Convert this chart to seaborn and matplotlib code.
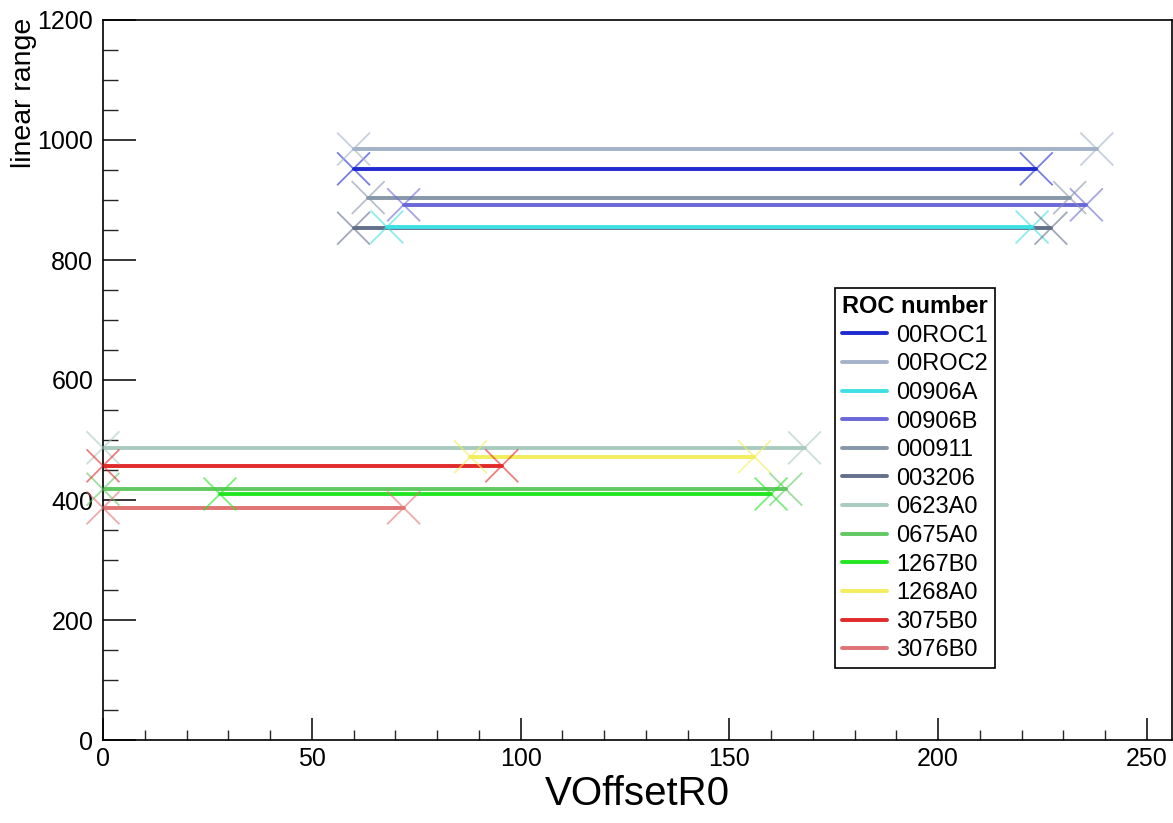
import numpy as np
import pandas as pd
import matplotlib
matplotlib.use("Agg")
import matplotlib.pyplot as plt
from matplotlib.lines import Line2D
from matplotlib.ticker import MultipleLocator
import seaborn as sns

# ---- data ----
rocs = ["00ROC1", "00ROC2", "00906A", "00906B", "000911", "003206",
        "0623A0", "0675A0", "1267B0", "1268A0", "3075B0", "3076B0"]
linear_range = [952, 985, 855, 892, 904, 853, 487, 418, 410, 472, 457, 387]
voffset_start = [60, 60, 68, 72, 63.5, 60, 0, 0, 28, 88, 0, 0]
voffset_end = [223.5, 238, 222.5, 235.5, 231.5, 227, 168, 163.5, 160, 156, 95.5, 72]
colors = ["#1f2ad0", "#a3b2c8", "#3fe0e4", "#6a68d6", "#8797a8", "#62708a",
          "#a9cbbf", "#62c862", "#22e622", "#f2ee5e", "#e12a2a", "#e07474"]

rows = []
for r, y, x0, x1 in zip(rocs, linear_range, voffset_start, voffset_end):
    rows.append({"roc": r, "VOffsetR0": x0, "linear range": y})
    rows.append({"roc": r, "VOffsetR0": x1, "linear range": y})
df = pd.DataFrame(rows)
palette = dict(zip(rocs, colors))
draw_order = rocs[::-1]

sns.set_theme(style="ticks")
plt.rcParams["font.family"] = ["Liberation Sans", "DejaVu Sans"]
plt.rcParams["text.color"] = "black"
plt.rcParams["axes.labelcolor"] = "black"
plt.rcParams["legend.labelcolor"] = "black"

fig = plt.figure(figsize=(11.73, 8.23), dpi=100)
ax = fig.add_axes([103 / 1173, 1 - 740 / 823, 1069 / 1173, 720 / 823])

sns.lineplot(data=df, x="VOffsetR0", y="linear range", hue="roc", hue_order=draw_order,
             palette=palette, estimator=None, sort=False, linewidth=2.8,
             legend=False, ax=ax)
sns.scatterplot(data=df, x="VOffsetR0", y="linear range", hue="roc", hue_order=draw_order,
                palette=palette, marker="x", s=560, linewidth=1.3, alpha=0.6,
                legend=False, ax=ax, clip_on=False, zorder=3)

ax.set_xlim(0, 256)
ax.set_ylim(0, 1200)
ax.xaxis.set_major_locator(MultipleLocator(50))
ax.xaxis.set_minor_locator(MultipleLocator(10))
ax.yaxis.set_major_locator(MultipleLocator(200))
ax.yaxis.set_minor_locator(MultipleLocator(50))

ax.tick_params(axis="x", which="major", direction="in", length=16, width=1.1,
               labelsize=18, pad=5, colors="black")
ax.tick_params(axis="x", which="minor", direction="in", length=7.5, width=1.0)
ax.tick_params(axis="y", which="major", direction="in", length=24, width=1.1,
               labelsize=18, pad=7, colors="black")
ax.tick_params(axis="y", which="minor", direction="in", length=11, width=1.0)

for s in ax.spines.values():
    s.set_visible(True)
    s.set_color("black")
    s.set_linewidth(1.2)

ax.set_xlabel("VOffsetR0", fontsize=29, labelpad=3)
ax.set_ylabel("linear range", fontsize=20.5, loc="top")
ax.yaxis.set_label_coords(-0.062, 1.003)

handles = [Line2D([0], [0], color=c, lw=2.8) for c in colors]
leg = ax.legend(handles, rocs, title="ROC number", loc="upper left",
                bbox_to_anchor=((835 - 103) / 1069, (740 - 288) / 720),
                fontsize=17, title_fontproperties={"weight": "bold", "size": 17},
                frameon=True, fancybox=False, edgecolor="black", framealpha=1,
                handlelength=1.9, handletextpad=0.4, labelspacing=0.28,
                borderpad=0.3, borderaxespad=0)
leg.get_frame().set_linewidth(1.2)
leg.get_title().set_color("black")
leg._legend_box.align = "left"

fig.savefig("out.png", dpi=100)
